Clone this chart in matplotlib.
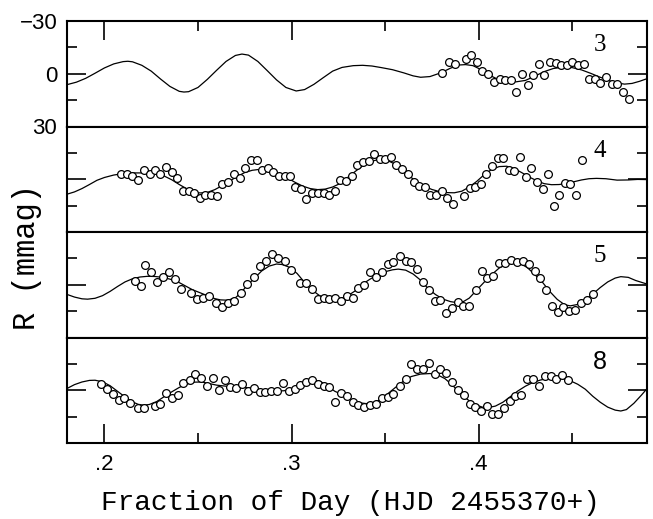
import matplotlib
matplotlib.use('Agg')
import matplotlib.pyplot as plt
from matplotlib.ticker import FixedLocator, NullFormatter

# ---- data (R in mmag, brighter = up) ----
# night 3
t3 = [0.3804, 0.3841, 0.3875, 0.3930, 0.3961, 0.3991, 0.4019, 0.4050, 0.4080, 0.4112,
      0.4143, 0.4171, 0.4201, 0.4231, 0.4262, 0.4290, 0.4321, 0.4351, 0.4380, 0.4412,
      0.4440, 0.4471, 0.4501, 0.4531, 0.4562, 0.4590, 0.4620, 0.4651, 0.4681, 0.4711,
      0.4742, 0.4772, 0.4804]
r3 = [-0.4, -6.6, -5.5, -8.5, -10.8, -6.5, -1.3, 0.2, 4.7, 3.0,
      3.4, 3.6, 10.1, 0.2, 6.3, 0.9, -5.3, 0.9, -6.5, -6.1,
      -5.1, -5.1, -6.5, -4.7, -5.5, 3.2, 2.8, 5.3, 1.9, 5.7,
      5.7, 10.4, 14.2]
fit_t3 = [0.180, 0.185, 0.190, 0.195, 0.200, 0.205, 0.210, 0.2125, 0.215, 0.220,
          0.225, 0.230, 0.235, 0.240, 0.2425, 0.245, 0.250, 0.255, 0.260, 0.265,
          0.270, 0.2735, 0.277, 0.282, 0.287, 0.292, 0.297, 0.3025, 0.307, 0.312,
          0.317, 0.322, 0.327, 0.333, 0.338, 0.343, 0.348, 0.354, 0.360, 0.365,
          0.369, 0.374, 0.380, 0.385, 0.390, 0.393, 0.397, 0.401, 0.406, 0.410,
          0.415, 0.420, 0.425, 0.430, 0.435, 0.440, 0.445, 0.450, 0.455, 0.460,
          0.465, 0.470, 0.475, 0.478, 0.482, 0.486, 0.490]
fit_r3 = [6.2, 4.8, 2.6, -0.3, -3.3, -5.6, -6.9, -7.1, -6.8, -4.8,
          -1.5, 3.0, 7.2, 10.0, 10.4, 10.2, 7.8, 3.2, -2.0, -7.0,
          -10.4, -11.2, -10.6, -7.0, -1.8, 3.5, 7.8, 9.8, 9.0, 6.0,
          2.2, -1.5, -3.6, -4.6, -4.8, -4.4, -3.5, -2.3, -0.5, 1.2,
          2.0, 1.6, -0.6, -3.2, -5.0, -5.2, -4.6, -2.5, 0.9, 3.0,
          4.1, 4.6, 3.8, 1.4, -1.2, -3.0, -3.7, -3.5, -2.2, -0.2,
          2.0, 4.0, 5.4, 5.9, 5.5, 4.3, 2.8]

# night 4
t4 = [0.2089, 0.2119, 0.2150, 0.2180, 0.2210, 0.2241, 0.2271, 0.2299, 0.2330, 0.2360,
      0.2390, 0.2421, 0.2451, 0.2481, 0.2512, 0.2540, 0.2571, 0.2601, 0.2631, 0.2662,
      0.2690, 0.2722, 0.2752, 0.2782, 0.2813, 0.2843, 0.2872, 0.2902, 0.2932, 0.2963,
      0.2993, 0.3021, 0.3052, 0.3080, 0.3111, 0.3141, 0.3171, 0.3202, 0.3230, 0.3260,
      0.3290, 0.3321, 0.3351, 0.3381, 0.3412, 0.3440, 0.3471, 0.3501, 0.3531, 0.3561,
      0.3592, 0.3622, 0.3652, 0.3681, 0.3711, 0.3742, 0.3772, 0.3802, 0.3831, 0.3861,
      0.3921, 0.3952, 0.3982, 0.4012, 0.4041, 0.4071, 0.4102, 0.4132, 0.4162, 0.4191,
      0.4221, 0.4251, 0.4282, 0.4312, 0.4342, 0.4372, 0.4401, 0.4431, 0.4461, 0.4491,
      0.4522, 0.4552]
r4 = [-3.2, -3.2, -1.7, 0.2, -5.5, -3.2, -5.5, -3.2, -7.0, -4.2,
      -0.9, 6.6, 6.6, 7.6, 10.4, 8.7, 8.7, 9.5, 2.8, 1.5,
      -3.2, -0.9, -6.6, -11.2, -10.8, -5.5, -6.6, -4.2, -1.9, -1.9,
      -1.7, 4.4, 5.3, 11.0, 7.6, 7.6, 7.6, 8.7, 6.6, 0.2,
      0.9, -1.9, -8.3, -9.9, -10.4, -14.6, -11.4, -11.4, -12.7, -8.0,
      -6.1, -3.2, 1.5, 3.8, 4.4, 9.1, 9.1, 6.6, 10.4, 13.9,
      9.7, 4.9, 4.4, 2.5, -3.2, -7.4, -12.0, -12.0, -5.1, -4.7,
      -12.7, -1.3, -6.5, 1.5, 5.3, -3.2, 15.4, 8.7, 2.1, 2.8,
      9.1, -10.8]
fit_t4 = [0.180, 0.184, 0.188, 0.192, 0.196, 0.200, 0.205, 0.210, 0.215, 0.220,
          0.225, 0.228, 0.232, 0.236, 0.240, 0.244, 0.248, 0.251, 0.255, 0.259,
          0.263, 0.267, 0.271, 0.275, 0.279, 0.282, 0.286, 0.290, 0.294, 0.298,
          0.302, 0.306, 0.310, 0.314, 0.318, 0.322, 0.326, 0.330, 0.334, 0.338,
          0.342, 0.346, 0.348, 0.351, 0.355, 0.359, 0.363, 0.367, 0.371, 0.375,
          0.379, 0.383, 0.387, 0.391, 0.395, 0.399, 0.403, 0.407, 0.411, 0.415,
          0.419, 0.423, 0.427, 0.431, 0.435, 0.439, 0.443, 0.447, 0.451, 0.455,
          0.459, 0.463, 0.468, 0.474, 0.480, 0.485, 0.490]
fit_r4 = [8.5, 7.2, 5.3, 3.0, 0.6, -1.0, -2.4, -3.2, -3.6, -3.6,
          -3.5, -3.2, -1.8, 0.3, 3.0, 5.4, 7.1, 7.8, 7.5, 5.9,
          3.6, 1.0, -1.6, -3.8, -5.1, -5.5, -5.2, -4.2, -2.6, -0.6,
          1.8, 3.9, 5.3, 5.9, 5.6, 4.4, 2.4, -1.0, -4.4, -7.6,
          -10.0, -11.1, -11.2, -10.8, -8.8, -5.5, -1.8, 1.5, 4.0, 5.8,
          7.0, 7.6, 7.7, 6.8, 4.4, 1.2, -2.6, -5.6, -7.2, -7.4,
          -6.1, -3.8, -1.3, 0.8, 2.5, 3.1, 3.0, 2.4, 1.4, 0.4,
          -0.3, -0.5, -0.3, 0.5, 0.4, 0.1, 0.2]

# night 5
t5 = [0.2162, 0.2193, 0.2219, 0.2251, 0.2282, 0.2314, 0.2344, 0.2378, 0.2408, 0.2465,
      0.2496, 0.2529, 0.2561, 0.2594, 0.2627, 0.2662, 0.2695, 0.2731, 0.2763, 0.2797,
      0.2833, 0.2865, 0.2897, 0.2930, 0.2964, 0.2996, 0.3043, 0.3076, 0.3109, 0.3141,
      0.3171, 0.3202, 0.3232, 0.3264, 0.3296, 0.3328, 0.3357, 0.3390, 0.3421, 0.3453,
      0.3483, 0.3515, 0.3545, 0.3578, 0.3610, 0.3640, 0.3672, 0.3702, 0.3734, 0.3765,
      0.3795, 0.3827, 0.3857, 0.3888, 0.3918, 0.3948, 0.3984, 0.4016, 0.4047, 0.4077,
      0.4109, 0.4141, 0.4173, 0.4203, 0.4235, 0.4267, 0.4299, 0.4330, 0.4362, 0.4392,
      0.4422, 0.4453, 0.4485, 0.4515, 0.4547, 0.4578, 0.4611]
r5 = [-1.9, 0.9, -11.2, -7.0, -1.7, -4.6, -7.4, -3.2, 2.5, 4.9,
      8.2, 7.8, 6.3, 10.1, 12.5, 10.6, 9.1, 4.7, -0.4, -4.2,
      -10.8, -13.7, -17.5, -15.0, -13.3, -8.5, -0.8, -0.9, 2.5, 8.2,
      7.8, 8.2, 7.8, 9.1, 6.6, 7.6, 2.1, 0.2, -7.0, -4.2,
      -7.0, -11.8, -12.7, -16.1, -13.7, -13.1, -8.9, -1.7, 2.8, 9.1,
      8.5, 16.1, 13.3, 9.7, 12.0, 12.0, 2.8, -8.0, -3.6, -4.7,
      -12.1, -12.1, -14.0, -12.7, -13.3, -11.8, -8.0, -3.8, 3.0, 12.3,
      15.4, 12.5, 14.8, 14.4, 10.4, 8.7, 5.3]
fit_t5 = [0.180, 0.184, 0.188, 0.191, 0.195, 0.199, 0.203, 0.207, 0.211, 0.215,
          0.219, 0.223, 0.227, 0.231, 0.235, 0.239, 0.243, 0.247, 0.251, 0.255,
          0.259, 0.262, 0.266, 0.270, 0.273, 0.276, 0.280, 0.284, 0.288, 0.292,
          0.295, 0.299, 0.303, 0.307, 0.311, 0.315, 0.319, 0.322, 0.326, 0.330,
          0.334, 0.338, 0.342, 0.346, 0.350, 0.354, 0.357, 0.361, 0.365, 0.369,
          0.373, 0.377, 0.381, 0.385, 0.388, 0.392, 0.395, 0.399, 0.403, 0.407,
          0.411, 0.415, 0.418, 0.422, 0.426, 0.430, 0.434, 0.438, 0.442, 0.446,
          0.449, 0.453, 0.457, 0.461, 0.465, 0.469, 0.473, 0.476, 0.480, 0.484,
          0.490]
fit_r5 = [5.5, 7.0, 8.0, 8.2, 7.7, 6.2, 3.8, 1.0, -1.6, -3.4,
          -4.4, -4.8, -4.7, -4.2, -3.2, -1.8, 0.5, 2.8, 4.5, 6.2,
          7.9, 8.6, 8.8, 7.4, 4.6, 0.6, -3.5, -7.8, -10.6, -11.8,
          -11.5, -9.9, -6.4, -1.3, 3.0, 6.2, 7.9, 8.2, 7.9, 6.3,
          3.5, -0.4, -3.2, -5.6, -7.4, -8.5, -8.9, -8.3, -6.1, -2.6,
          2.2, 5.6, 8.2, 9.6, 10.1, 9.5, 7.6, 3.0, -1.5, -5.8,
          -9.5, -11.8, -12.6, -12.2, -9.8, -5.8, -1.6, 3.8, 8.3, 11.4,
          12.0, 11.2, 8.8, 5.3, 1.6, -1.6, -3.8, -4.6, -4.2, -2.4,
          -0.4]

# night 8
t8 = [0.1982, 0.2012, 0.2044, 0.2077, 0.2107, 0.2137, 0.2182, 0.2214, 0.2273, 0.2299,
      0.2330, 0.2362, 0.2392, 0.2422, 0.2455, 0.2485, 0.2517, 0.2549, 0.2581, 0.2611,
      0.2642, 0.2672, 0.2704, 0.2734, 0.2768, 0.2798, 0.2829, 0.2859, 0.2889, 0.2921,
      0.2954, 0.2986, 0.3018, 0.3048, 0.3079, 0.3111, 0.3141, 0.3171, 0.3203, 0.3234,
      0.3262, 0.3296, 0.3328, 0.3357, 0.3390, 0.3421, 0.3453, 0.3483, 0.3515, 0.3545,
      0.3578, 0.3610, 0.3640, 0.3670, 0.3702, 0.3733, 0.3765, 0.3795, 0.3827, 0.3857,
      0.3889, 0.3920, 0.3952, 0.3982, 0.4012, 0.4043, 0.4073, 0.4105, 0.4135, 0.4166,
      0.4196, 0.4228, 0.4260, 0.4292, 0.4322, 0.4354, 0.4385, 0.4415, 0.4445, 0.4478]
r8 = [-3.4, -0.9, 2.3, 5.3, 4.2, 7.0, 9.9, 9.9, 9.1, 8.0,
      1.3, 4.4, 2.8, -4.2, -5.7, -9.1, -7.2, -2.5, -7.0, -0.4,
      -6.1, -1.9, -1.5, -3.4, 0.6, -1.5, 0.9, 0.9, 0.6, 0.6,
      -4.2, 0.6, -0.9, -2.8, -4.7, -6.1, -3.8, -2.3, -1.9, 6.6,
      1.5, 3.2, 6.6, 8.5, 9.5, 8.5, 8.0, 4.4, 3.8, 1.9,
      -2.5, -6.6, -14.8, -12.3, -12.3, -15.6, -9.5, -12.3, -9.9, -4.7,
      -0.4, 2.5, 7.6, 9.5, 12.0, 9.1, 13.3, 13.3, 10.1, 6.3,
      3.4, 2.5, -6.3, -6.3, -2.3, -8.2, -8.2, -6.3, -8.5, -6.1]
fit_t8 = [0.180, 0.184, 0.188, 0.192, 0.195, 0.199, 0.203, 0.207, 0.211, 0.215,
          0.218, 0.221, 0.224, 0.228, 0.232, 0.236, 0.240, 0.244, 0.248, 0.252,
          0.256, 0.260, 0.265, 0.270, 0.276, 0.281, 0.286, 0.291, 0.296, 0.300,
          0.304, 0.308, 0.311, 0.315, 0.319, 0.323, 0.327, 0.331, 0.335, 0.340,
          0.344, 0.348, 0.352, 0.356, 0.360, 0.364, 0.369, 0.374, 0.378, 0.382,
          0.386, 0.390, 0.394, 0.398, 0.402, 0.405, 0.409, 0.413, 0.417, 0.421,
          0.425, 0.429, 0.433, 0.437, 0.441, 0.445, 0.449, 0.453, 0.457, 0.461,
          0.465, 0.469, 0.473, 0.476, 0.479, 0.483, 0.487, 0.490]
fit_r8 = [-1.0, -3.2, -4.7, -5.6, -5.7, -4.8, -2.6, 0.6, 3.8, 6.6,
          8.0, 8.5, 8.1, 6.4, 3.6, 0.9, -1.6, -3.5, -4.6, -4.7,
          -3.8, -2.9, -2.3, -1.9, -1.5, -0.8, 0.0, 0.4, 0.3, -0.8,
          -2.5, -4.6, -5.7, -5.2, -2.8, 0.5, 2.5, 5.0, 7.0, 7.6,
          7.2, 5.0, 1.5, -2.0, -5.3, -7.8, -9.2, -9.5, -8.8, -6.6,
          -2.9, 1.5, 5.2, 8.2, 9.6, 9.9, 9.0, 6.8, 3.6, 0.4,
          -2.3, -4.4, -5.8, -6.7, -7.0, -6.6, -5.4, -3.4, -0.6, 3.4,
          6.8, 9.6, 11.3, 11.8, 11.0, 7.4, 2.8, -0.9]

nights = ['3', '4', '5', '8']
obs_t = [t3, t4, t5, t8]
obs_r = [r3, r4, r5, r8]
fits_t = [fit_t3, fit_t4, fit_t5, fit_t8]
fits_r = [fit_r3, fit_r4, fit_r5, fit_r8]
xticks = [0.2, 0.3, 0.4]
xticklabels = ['.2', '.3', '.4']
yticks = [-30, 0, 30]
yticklabels = ['\u221230', '0', '30']

W, H = 653, 519
fig = plt.figure(figsize=(W / 100, H / 100), dpi=100)

left, right, top, bottom = 67, 647, 21, 443
ph = (bottom - top) / 4.0

for i in range(4):
    y0 = 1 - (top + ph * (i + 1)) / H
    ax = fig.add_axes([left / W, y0, (right - left) / W, ph / H])

    ax.plot(fits_t[i], fits_r[i], color='black', lw=0.9, zorder=2)
    ax.plot(obs_t[i], obs_r[i], 'o', ms=5.6, mfc='white', mec='black', mew=0.9, zorder=3)

    ax.set_xlim(0.18, 0.49)
    ax.set_ylim(30, -30)
    for s in ax.spines.values():
        s.set_linewidth(1.5)

    ax.set_yticks(yticks)
    ax.yaxis.set_minor_locator(FixedLocator([-15, 15]))
    ax.tick_params(axis='y', which='both', direction='in', left=True, right=True, width=1.2)
    ax.tick_params(axis='y', which='major', length=14, pad=7)
    ax.tick_params(axis='y', which='minor', length=7)
    if i == 0:
        ax.set_yticklabels(yticklabels, fontsize=16, family='Liberation Sans')
    else:
        ax.set_yticklabels([])

    ax.set_xticks(xticks)
    ax.xaxis.set_minor_locator(FixedLocator([0.25, 0.35, 0.45]))
    ax.tick_params(axis='x', which='both', direction='in', width=1.2,
                   top=(i == 0), bottom=(i == 3), labelbottom=(i == 3))
    ax.tick_params(axis='x', which='major', length=14, pad=8)
    ax.tick_params(axis='x', which='minor', length=7)
    if i == 3:
        ax.set_xticklabels(xticklabels, fontsize=16, family='Liberation Sans')
    else:
        ax.set_xticklabels([])
    ax.xaxis.set_minor_formatter(NullFormatter())

    fam = 'Liberation Sans' if nights[i] == '8' else 'Liberation Serif'
    ax.text(0.919, 0.77, nights[i], transform=ax.transAxes, ha='center', va='center',
            fontsize=18, family=fam)

fig.text(350 / W, 1 - 503 / H, 'Fraction of Day (HJD 2455370+)', ha='center', va='center',
         fontsize=20, family='Liberation Mono')
fig.text(27 / W, 1 - 257 / H, 'R (mmag)', ha='center', va='center', rotation=90,
         fontsize=22, family='Liberation Mono')

fig.savefig('out.png', dpi=100)
